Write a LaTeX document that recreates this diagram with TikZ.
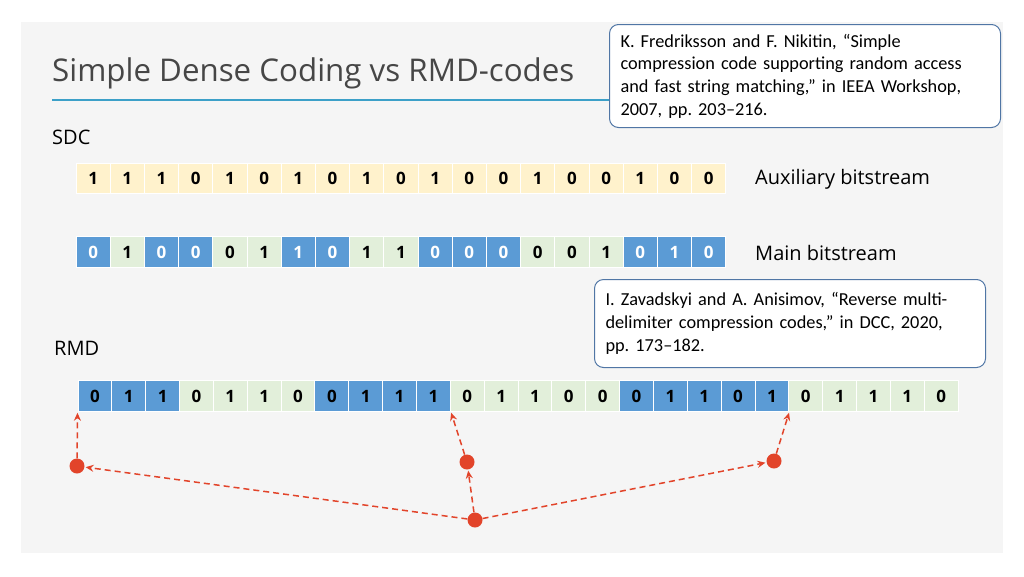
\documentclass[tikz,border=0pt]{standalone}
\usepackage{fontspec}
\setmainfont{Open Sans}
\newfontfamily\citefont{Carlito}
\usetikzlibrary{arrows.meta}
\frenchspacing
\definecolor{slidebg}{RGB}{245,245,245}
\definecolor{auxyellow}{RGB}{255,242,204}
\definecolor{cellblue}{RGB}{91,155,213}
\definecolor{cellgreen}{RGB}{226,239,218}
\definecolor{titlegray}{RGB}{70,70,70}
\definecolor{ruleblue}{RGB}{60,160,200}
\definecolor{boxborder}{RGB}{80,118,165}
\definecolor{dotred}{RGB}{226,68,42}
\tikzset{
  cellbase/.style={minimum width=34.2pt, minimum height=30.5pt, inner sep=0pt, draw=white, line width=1pt, font=\fontsize{17}{17}\selectfont\bfseries},
  auxcell/.style={cellbase, fill=auxyellow, text=black},
  mb/.style={cellbase, fill=cellblue, text=white},
  mg/.style={cellbase, fill=cellgreen, text=black},
  rcell/.style={cellbase, minimum width=33.85pt},
  rb/.style={rcell, fill=cellblue, text=black},
  rg/.style={rcell, fill=cellgreen, text=black},
  lbl/.style={anchor=west, inner sep=0pt, font=\fontsize{20}{24}\selectfont, text=black},
  citebox/.style={draw=boxborder, fill=white, line width=1pt, rounded corners=9pt, anchor=north west, align=left, inner xsep=11pt, inner ysep=4pt, font=\citefont\fontsize{18.3}{22.7}\selectfont},
  dot/.style={circle, fill=dotred, minimum size=15pt, inner sep=0pt},
  redarrow/.style={draw=dotred, line width=1.5pt, dash pattern=on 6pt off 4pt, -{Stealth[length=8pt,width=7pt]}, shorten >=1pt}
}
\begin{document}
\begin{tikzpicture}[x=1pt,y=-1pt]
\useasboundingbox (0,0) rectangle (1024,576);
\fill[white] (0,0) rectangle (1024,576);
\fill[slidebg] (21,22) rectangle (1003,553);
% title
\node[anchor=base west, inner sep=0pt, text=titlegray, font=\fontsize{31.3}{33}\selectfont] (title) at (52,81) {Simple Dense Coding vs RMD-codes};
\draw[ruleblue, line width=2pt] (52,100) coordinate (r1) -- (610,100) coordinate (r2);
% citation boxes
\node[citebox, text width=369pt, minimum height=103pt] (cite1) at (609,24) {K. Fredriksson and F. Nikitin, “Simple\\compression code supporting random access\\and fast string matching,” in IEEA Workshop,\\2007, pp. 203–216.};
\node[citebox, text width=369pt, minimum height=88pt] (cite2) at (594,279) {I. Zavadskyi and A. Anisimov, “Reverse multi-\\delimiter compression codes,” in DCC, 2020,\\pp. 173–182.};
% labels
\node[lbl] (sdc) at (52,137) {SDC};
\node[lbl] (rmd) at (54,348) {RMD};
\node[lbl] (auxl) at (755,179) {Auxiliary bitstream};
\node[lbl] (mainl) at (755,253) {Main bitstream};
% auxiliary bitstream
\foreach \d [count=\i from 0] in {1,1,1,0,1,0,1,0,1,0,1,0,0,1,0,0,1,0,0}
  \node[auxcell] (a\i) at ({76+34.2*\i+17.1},178.5) {\d};
% main bitstream
\foreach \d/\s [count=\i from 0] in {0/mb,1/mg,0/mb,0/mb,0/mg,1/mg,1/mb,0/mb,1/mg,1/mg,0/mb,0/mb,0/mb,0/mg,0/mg,1/mg,0/mb,1/mb,0/mb}
  \node[\s] (m\i) at ({76+34.2*\i+17.1},252) {\d};
% RMD
\foreach \d/\s [count=\i from 0] in {0/rb,1/rb,1/rb,0/rg,1/rg,1/rg,0/rg,0/rb,1/rb,1/rb,1/rb,0/rg,1/rg,1/rg,0/rg,0/rg,0/rb,1/rb,1/rb,0/rb,1/rb,0/rg,1/rg,1/rg,1/rg,0/rg}
  \node[\s] (r\i) at ({78+33.85*\i+16.925},396) {\d};
% dots
\node[dot] (d1) at (77,466) {};
\node[dot] (d2) at (467,462) {};
\node[dot] (d3) at (774,461) {};
\node[dot] (d0) at (475,520) {};
% arrows
\draw[redarrow] (d1) -- (r0.south west);
\draw[redarrow] (d2) -- (r10.south east);
\draw[redarrow] (d3) -- (r20.south east);
\draw[redarrow] (d0) -- (d1);
\draw[redarrow] (d0) -- (d2);
\draw[redarrow] (d0) -- (d3);
\end{tikzpicture}
\end{document}
